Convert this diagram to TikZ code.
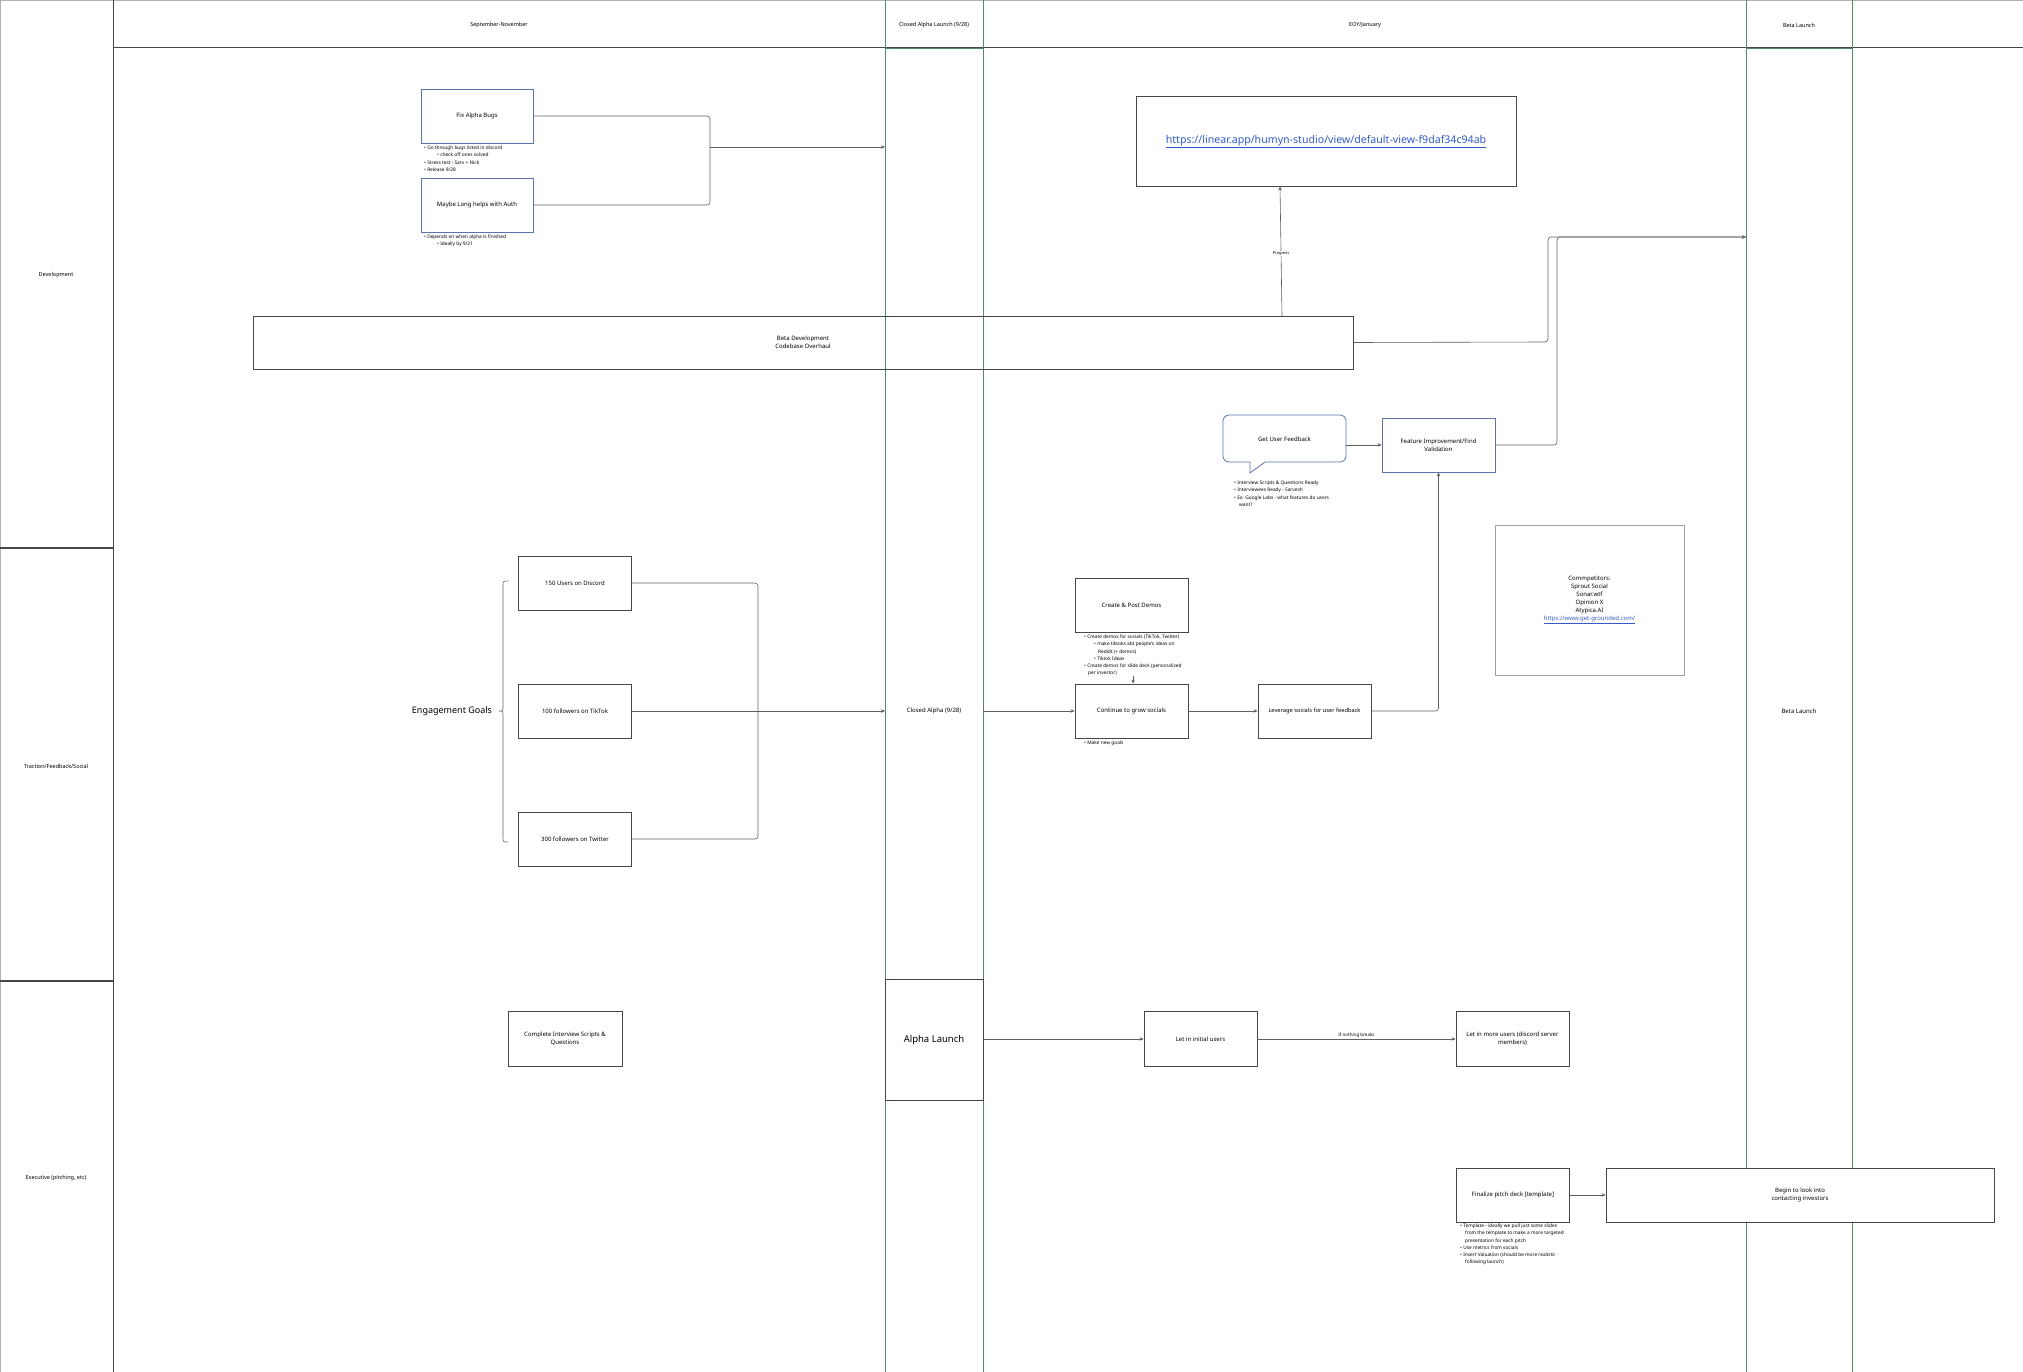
\documentclass[tikz,border=0pt]{standalone}
\usepackage{fontspec}
\setmainfont{Noto Sans}
\usetikzlibrary{arrows.meta}
\definecolor{gridgreen}{RGB}{80,140,105}
\definecolor{boxblue}{RGB}{90,115,170}
\definecolor{boxgray}{RGB}{70,70,70}
\definecolor{linegray}{RGB}{95,95,95}
\definecolor{linkblue}{RGB}{50,90,200}
\begin{document}
\begin{tikzpicture}[x=1pt,y=-1pt,
 box/.style={draw=boxgray, line width=0.8pt, fill=white, align=center, font=\fontsize{6}{8}\selectfont, inner sep=1pt},
 bluebox/.style={box, draw=boxblue},
 note/.style={font=\fontsize{4.8}{7.1}\selectfont, align=left, anchor=north west, inner sep=0pt},
 arr/.style={draw=linegray, line width=0.6pt, -{Stealth[length=4pt,width=3.5pt]}},
 conn/.style={draw=linegray, line width=0.6pt, rounded corners=3pt},
 gridg/.style={draw=gridgreen, line width=0.8pt},
 dark/.style={draw=boxgray, line width=1pt},
 lbl/.style={font=\fontsize{5.5}{7}\selectfont, align=center},
]
\useasboundingbox (0,0) rectangle (2023,1372);
% grid
\draw[draw=gray!60, line width=0.8pt] (0,0.5) -- (2023,0.5);
\draw[draw=gray!60, line width=0.8pt] (0.5,0) -- (0.5,1372);
\draw[dark] (113,0) -- (113,1372);
\draw[dark, line width=1.3pt] (0,548) -- (113,548);
\draw[dark, line width=1.3pt] (0,981) -- (113,981);
\draw[dark] (113,48) -- (2023,48);
\draw[gridg] (885,0) -- (885,1372);
\draw[gridg] (983,0) -- (983,1372);
\draw[gridg] (1746,0) -- (1746,1372);
\draw[gridg] (1852,0) -- (1852,1372);
\draw[gridg] (885,48) -- (983,48);
\draw[gridg] (1746,48) -- (1852,48);
% header labels
\node[lbl] (hsep) at (499,25) {September-November};
\node[lbl] (hcal) at (934,25) {Closed Alpha Launch (9/28)};
\node[lbl] (heoy) at (1365,25) {EOY/January};
\node[lbl] (hbl) at (1799,25) {Beta Launch};
% row labels
\node[lbl] (rdev) at (56,275) {Development};
\node[lbl] (rtra) at (56,766) {Traction/Feedback/Social};
\node[lbl] (rexe) at (56,1178) {Executive (pitching, etc)};

% Development row
\node[bluebox, minimum width=112pt, minimum height=54pt] (fab) at (477,116) {Fix Alpha Bugs};
\node[bluebox, minimum width=112pt, minimum height=54pt] (mlh) at (477,205) {Maybe Long helps with Auth};
\node[note] (n1) at (424,146) {\textbullet\ Go through bugs listed in discord\\\hspace*{13pt}\textbullet\ check off ones solved\\\textbullet\ Stress test - Sarv + Nick\\\textbullet\ Release 9/28};
\node[note] (n2) at (424,235) {\textbullet\ Depends on when alpha is finished\\\hspace*{13pt}\textbullet\ Ideally by 9/21};
\coordinate (j1) at (710,147);
\coordinate (ca1) at (885,147);
\draw[conn] (fab.east) -- (710,116) -- (j1);
\draw[conn] (mlh.east) -- (710,205) -- (j1);
\draw[arr] (j1) -- (ca1);

\node[box, minimum width=380pt, minimum height=90pt, font=\fontsize{10.6}{12}\selectfont, text=linkblue] (lin) at (1326,141.5) {\underline{https://linear.app/humyn-studio/view/default-view-f9daf34c94ab}};
\node[box, fill=none, minimum width=1100pt, minimum height=53pt] (bdev) at (803,342.5) {Beta Development\\Codebase Overhaul};
\coordinate (pg1) at (1282,316);
\coordinate (pg2) at (1280,186.5);
\draw[arr] (pg1) -- node[pos=0.48, fill=white, font=\fontsize{4}{5}\selectfont, inner sep=0.5pt] (prog) {Progress} (pg2);

\coordinate (bl1) at (1746,237);
\draw[conn, arr] (bdev.east) -- (1548,342) -- (1548,237) -- (bl1);

% callout
\draw[draw=boxblue, line width=0.8pt, fill=white] (1265,462) [rounded corners=6pt] -- (1346,462) -- (1346,415) -- (1223,415) -- (1223,462) [sharp corners] -- (1250,462) -- (1250,473) -- cycle;
\node[lbl, font=\fontsize{6}{8}\selectfont] (guf) at (1284.5,439) {Get User Feedback};
\node[note] (n3) at (1234,481) {\textbullet\ Interview Scripts \& Questions Ready\\\textbullet\ Interviewees Ready - Sarvesh\\\textbullet\ Ex: Google Labs - what features do users\\\hspace*{5pt}want?};
\node[bluebox, minimum width=113pt, minimum height=54pt] (fiv) at (1438.5,445) {Feature Improvement/Find\\Validation};
\coordinate (gufr) at (1346,445);
\draw[arr] (gufr) -- (fiv.west);
\draw[conn, arr] (fiv.east) -- (1557,445) -- (1557,237) -- (bl1);

\node[box, draw=gray!75, line width=1pt, minimum width=189pt, minimum height=150pt] (comp) at (1589.5,600) {Commpetitors:\\Sprout Social\\Sonar.wtf\\Opinion X\\Atypica.AI\\{\color{linkblue}\underline{https://www.get-grounded.com/}}};

% Traction row
\node[box, minimum width=113pt, minimum height=54pt] (d150) at (575,583) {150 Users on Discord};
\node[box, minimum width=113pt, minimum height=54pt] (t100) at (575,711) {100 followers on TikTok};
\node[box, minimum width=113pt, minimum height=54pt] (t300) at (575,839) {300 followers on Twitter};
\draw[linegray, line width=0.6pt] (508,581) .. controls (503,581) .. (503,586) -- (503,706) .. controls (503,711) .. (499,711) .. controls (503,711) .. (503,716) -- (503,837) .. controls (503,842) .. (508,842);
\node[font=\fontsize{9}{11}\selectfont] (eg) at (452,711) {Engagement Goals};
\coordinate (j2) at (758,711);
\coordinate (ca2) at (885,711);
\draw[conn] (d150.east) -- (758,583) -- (j2);
\draw[conn] (t300.east) -- (758,839) -- (j2);
\draw[arr] (t100.east) -- (ca2);
\node[lbl, font=\fontsize{6}{8}\selectfont] (cal) at (934,711) {Closed Alpha (9/28)};
\coordinate (ca3) at (983,711);

\node[box, minimum width=113pt, minimum height=54pt] (cpd) at (1131.5,605) {Create \& Post Demos};
\node[note] (n4) at (1084,635) {\textbullet\ Create demos for socials (TikTok, Twitter)\\\hspace*{10pt}\textbullet\ make tiktoks abt people's ideas on\\\hspace*{14pt}Reddit (+ demos)\\\hspace*{10pt}\textbullet\ Tiktok Ideas\\\textbullet\ Create demos for slide deck (personalized\\\hspace*{4pt}per investor)};
\node[box, minimum width=113pt, minimum height=54pt] (cgs) at (1131.5,711) {Continue to grow socials};
\node[note] (n5) at (1084,741) {\textbullet\ Make new goals};
\coordinate (cpd1) at (1133,676);
\draw[arr] (cpd1) -- (cpd1 |- cgs.north);
\draw[arr] (ca3) -- (cgs.west);
\node[box, minimum width=113pt, minimum height=54pt, font=\fontsize{5.7}{8}\selectfont] (lsf) at (1314.5,711) {Leverage socials for user feedback};
\draw[arr] (cgs.east) -- (lsf.west);
\draw[conn, arr] (lsf.east) -- (1438.5,711) -- (fiv.south);
\node[lbl, font=\fontsize{6}{8}\selectfont] (blt) at (1799,711) {Beta Launch};

% Executive row
\node[box, minimum width=114pt, minimum height=55pt] (cis) at (565,1039) {Complete Interview Scripts \&\\Questions};
\node[box, minimum width=98pt, minimum height=121pt, font=\fontsize{9.5}{11}\selectfont] (al) at (934,1040) {Alpha Launch};
\node[box, minimum width=113pt, minimum height=55pt] (liu) at (1200.5,1039) {Let in initial users};
\node[box, minimum width=113pt, minimum height=55pt] (lmu) at (1512.5,1039) {Let in more users (discord server\\members)};
\draw[arr] (al.east |- liu.west) -- (liu.west);
\draw[arr] (liu.east) -- node[above=1pt, font=\fontsize{4.5}{5}\selectfont, inner sep=0pt] (inb) {If nothing breaks} (lmu.west);
\node[box, minimum width=113pt, minimum height=54pt] (fpd) at (1513,1195) {Finalize pitch deck [template]};
\node[box, minimum width=388pt, minimum height=54pt] (bci) at (1800,1195) {Begin to look into\\contacting investors};
\draw[arr] (fpd.east) -- (bci.west);
\node[note] (n6) at (1460,1224) {\textbullet\ Template - ideally we pull just some slides\\\hspace*{5pt}from the template to make a more targeted\\\hspace*{5pt}presentation for each pitch\\\textbullet\ Use metrics from socials\\\textbullet\ Insert Valuation (should be more realistic\\\hspace*{5pt}following launch)};
\end{tikzpicture}
\end{document}
